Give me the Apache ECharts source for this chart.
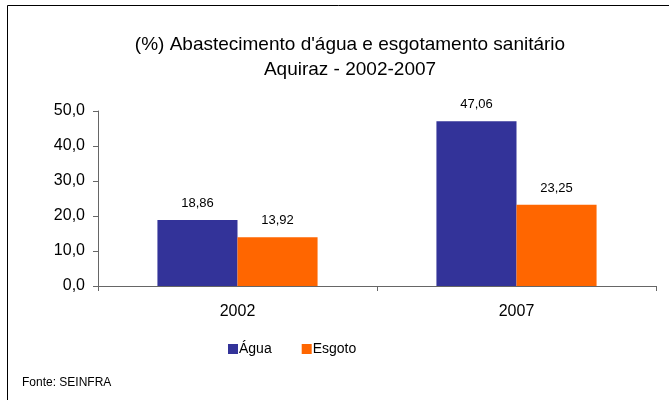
<!DOCTYPE html>
<html>
<head>
<meta charset="utf-8">
<script src="https://cdn.jsdelivr.net/npm/echarts@6/dist/echarts.min.js"></script>
<style>
  html, body { margin: 0; padding: 0; background: #fff; }
  #chart { width: 669px; height: 400px; }
</style>
</head>
<body>
<div id="chart"></div>
<script>
const categories = ['2002', '2007'];
const agua = [18.86, 47.06];
const esgoto = [13.92, 23.25];
const yTicks = { min: 0, max: 50, interval: 10 };

const fmt1 = v => v.toFixed(1).replace('.', ',');
const fmt2 = v => v.toFixed(2).replace('.', ',');
const font = 'Liberation Sans, Arial, sans-serif';

const chart = echarts.init(document.getElementById('chart'));

const options = {
  animation: false,
  color: ['#333399', '#FF6600'],
  title: {
    text: "(%) Abastecimento d'água e esgotamento sanitário\nAquiraz - 2002-2007",
    left: 345,
    top: 27,
    textAlign: 'center',
    textStyle: {
      fontFamily: font,
      fontWeight: 'normal',
      fontSize: 19,
      lineHeight: 25,
      color: '#000'
    }
  },
  graphic: [
    {
      type: 'rect',
      shape: { x: 7.5, y: 5.5, width: 720, height: 440 },
      style: { fill: 'none', stroke: '#000', lineWidth: 1 },
      silent: true
    },
    {
      type: 'text',
      left: 22,
      top: 377,
      style: { text: 'Fonte: SEINFRA', fontFamily: font, fontSize: 12, fill: '#000' }
    }
  ],
  legend: {
    left: 223,
    top: 337,
    icon: 'rect',
    itemWidth: 10,
    itemHeight: 10,
    itemGap: 30,
    textStyle: { fontFamily: font, fontSize: 14, color: '#000', padding: [0, 0, 0, -4] },
    data: ['Água', 'Esgoto']
  },
  grid: {
    left: 98,
    right: 13,
    top: 111,
    bottom: 114,
    containLabel: false
  },
  xAxis: {
    type: 'category',
    data: categories,
    axisLine: { lineStyle: { color: '#666', width: 1 } },
    axisTick: { show: true, length: 5, lineStyle: { color: '#666' } },
    axisLabel: { fontFamily: font, fontSize: 16, color: '#000', margin: 18 }
  },
  yAxis: {
    type: 'value',
    min: yTicks.min,
    max: yTicks.max,
    interval: yTicks.interval,
    axisLine: { show: true, lineStyle: { color: '#666', width: 1 } },
    axisTick: { show: true, length: 5, lineStyle: { color: '#666' } },
    splitLine: { show: false },
    axisLabel: { fontFamily: font, fontSize: 16, color: '#000', margin: 13, formatter: fmt1 }
  },
  series: [
    {
      name: 'Água',
      type: 'bar',
      data: agua,
      barGap: '0%',
      barCategoryGap: '42.6%',
      label: {
        show: true,
        position: 'top',
        distance: 10,
        fontFamily: font,
        fontSize: 13,
        color: '#000',
        formatter: p => fmt2(p.value)
      }
    },
    {
      name: 'Esgoto',
      type: 'bar',
      data: esgoto,
      barGap: '0%',
      barCategoryGap: '42.6%',
      label: {
        show: true,
        position: 'top',
        distance: 10,
        fontFamily: font,
        fontSize: 13,
        color: '#000',
        formatter: p => fmt2(p.value)
      }
    }
  ]
};

chart.setOption(options);
</script>
</body>
</html>
